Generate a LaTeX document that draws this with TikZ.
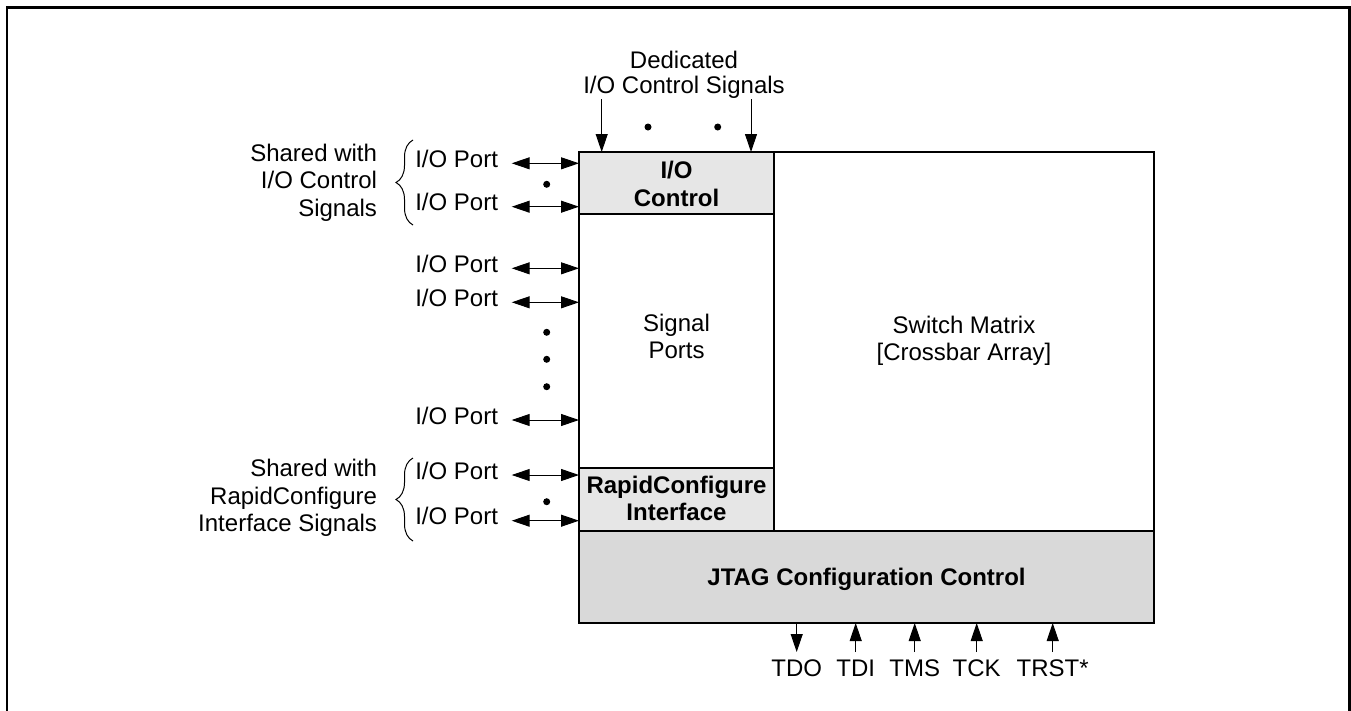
\documentclass[tikz,border=0pt]{standalone}
\usepackage{fontspec}
\setmainfont{Liberation Sans}
\usetikzlibrary{arrows.meta,decorations.pathreplacing}
\definecolor{lightfill}{RGB}{230,230,230}
\definecolor{jtagfill}{RGB}{217,217,217}
\begin{document}
\begin{tikzpicture}[x=1pt,y=-1pt,
  every node/.style={inner sep=0pt,outer sep=0pt,font=\fontsize{24}{27.5}\selectfont},
  blk/.style={draw=black,line width=1.8pt},
  boldtxt/.style={font=\fontsize{24}{27.5}\selectfont\bfseries,align=center},
  plain/.style={align=center},
  tip/.style={-{Triangle[length=18pt,width=12pt]},line width=1pt},
  dbl/.style={{Triangle[length=18pt,width=12pt]}-{Triangle[length=18pt,width=12pt]},line width=1pt},
  brc/.style={decorate,decoration={brace,amplitude=17pt},line width=1pt},
  dotmark/.style={fill=black}
]
\useasboundingbox (0,0) rectangle (1351,710);
% outer frame
\draw[line width=2.2pt] (7,712) -- (7,7.5) -- (1349.5,7.5) -- (1349.5,712);

% blocks
\draw[blk,fill=lightfill] (579,152) rectangle (774,214);
\node[boldtxt] (ioc) at (676.5,184) {I/O\\Control};
\draw[blk] (579,214) rectangle (774,468);
\node[plain] (sp) at (676.5,336.5) {Signal\\Ports};
\draw[blk,fill=lightfill] (579,468) rectangle (774,531);
\node[boldtxt] (rci) at (676.5,498.5) {RapidConfigure\\Interface};
\draw[blk] (774,152) rectangle (1154,531);
\node[plain] (sm) at (964,341) {Switch Matrix\\{[}Crossbar Array{]}};
\draw[blk,fill=jtagfill] (579,531) rectangle (1154,623);
\node[font=\fontsize{24}{27.5}\selectfont\bfseries,anchor=base] (jtag) at (866.5,585) {JTAG Configuration Control};

% named edge coordinates
\coordinate (boxL) at (579,0);
\coordinate (boxT) at (0,152);
\coordinate (boxB) at (0,623);

% top dedicated signals
\node[plain,font=\fontsize{24}{25}\selectfont] (ded) at (684,74.5) {Dedicated\\I/O Control Signals};
\coordinate (d1) at (601.7,99);
\coordinate (d2) at (751,99);
\draw[tip] (d1) -- (d1 |- boxT);
\draw[tip] (d2) -- (d2 |- boxT);
\fill[dotmark] (648,127) circle (3.5pt);
\fill[dotmark] (717.7,127) circle (3.5pt);

% left I/O ports
\foreach \n/\y in {1/163.3,2/206.7,3/268.3,4/302.3,5/420,6/475,7/520.7}{
  \node[anchor=base east] (p\n) at (498,\y+4) {I/O Port};
  \coordinate (a\n) at (511.7,\y);
  \draw[dbl] (a\n) -- (a\n -| boxL);
}
\fill[dotmark] (546.7,184.3) circle (3.5pt);
\fill[dotmark] (546.7,332.3) circle (3.5pt);
\fill[dotmark] (546.7,359.3) circle (3.5pt);
\fill[dotmark] (546.7,386.7) circle (3.5pt);
\fill[dotmark] (546.7,501.7) circle (3.5pt);

% braces and shared labels
\coordinate (b1s) at (413,225);
\coordinate (b1e) at (413,140);
\draw[brc] (b1s) -- (b1e);
\coordinate (b2s) at (413,541);
\coordinate (b2e) at (413,458);
\draw[brc] (b2s) -- (b2e);
\node[anchor=east,align=right] (s1) at (377,182.7) {Shared with\\I/O Control\\Signals};
\node[anchor=east,align=right] (s2) at (377,498.2) {Shared with\\RapidConfigure\\Interface Signals};

% JTAG pins
\foreach \n/\x/\lab in {tdo/796.7/TDO,tdi/855.7/TDI,tms/914.7/TMS,tck/976.7/TCK,trst/1052.7/TRST*}{
  \node[anchor=base] (\n) at (\x,676.7) {\lab};
  \coordinate (c\n) at (\x,652);
}
\draw[tip] (tdo |- boxB) -- (ctdo);
\draw[tip] (ctdi) -- (tdi |- boxB);
\draw[tip] (ctms) -- (tms |- boxB);
\draw[tip] (ctck) -- (tck |- boxB);
\draw[tip] (ctrst) -- (trst |- boxB);
\end{tikzpicture}
\end{document}
